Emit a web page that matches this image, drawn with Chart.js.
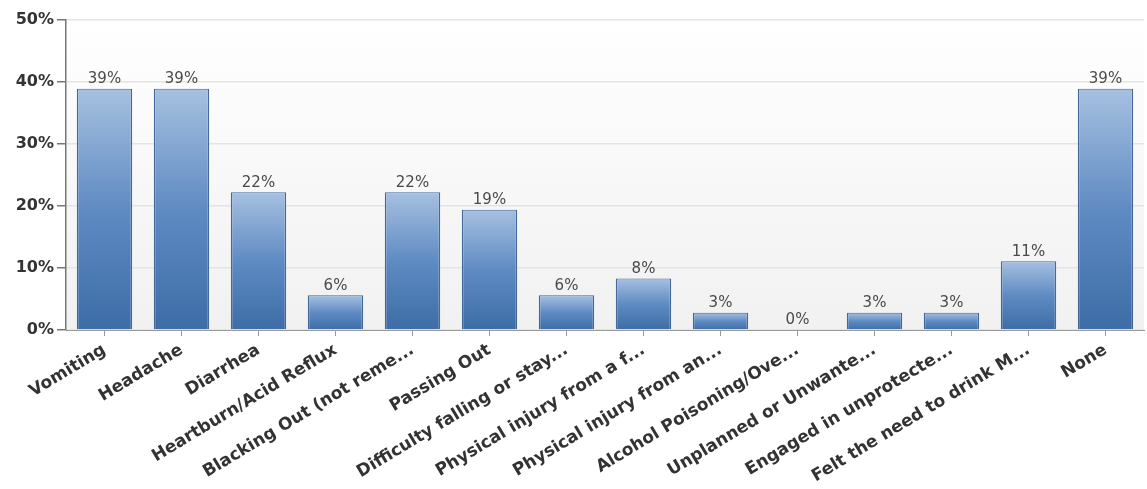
<!DOCTYPE html>
<html>
<head>
<meta charset="utf-8">
<script src="https://cdn.jsdelivr.net/npm/chart.js@4.4.0/dist/chart.umd.min.js"></script>
<style>
  html, body { margin: 0; padding: 0; background: #fff; }
  #wrap { width: 1147px; height: 489px; position: relative; }
</style>
</head>
<body>
<div id="wrap"><canvas id="barChart"></canvas></div>
<script>
const categories = [
    'Vomiting', 'Headache', 'Diarrhea', 'Heartburn/Acid Reflux',
    'Blacking Out (not reme...', 'Passing Out', 'Difficulty falling or stay...',
    'Physical injury from a f...', 'Physical injury from an...', 'Alcohol Poisoning/Ove...',
    'Unplanned or Unwante...', 'Engaged in unprotecte...', 'Felt the need to drink M...', 'None'
];
const percents = [38.9, 38.9, 22.2, 5.6, 22.2, 19.4, 5.6, 8.3, 2.8, 0, 2.8, 2.8, 11.1, 38.9];
const yTicks = [0, 10, 20, 30, 40, 50];

const textDark = '#333333';

// light panel behind the plot
const panelBg = {
    id: 'panelBg',
    beforeDraw(chart) {
        const { ctx, chartArea: a } = chart;
        if (!a) return;
        const g = ctx.createLinearGradient(0, a.top, 0, a.bottom);
        g.addColorStop(0, '#ffffff');
        g.addColorStop(1, '#f1f1f1');
        ctx.save();
        ctx.fillStyle = g;
        ctx.fillRect(a.left, a.top, a.right - a.left, a.bottom - a.top);
        ctx.restore();
    }
};

// "39%" labels over the bars
const valueLabels = {
    id: 'valueLabels',
    afterDatasetsDraw(chart) {
        const ctx = chart.ctx;
        const meta = chart.getDatasetMeta(0);
        ctx.save();
        ctx.font = '15px "DejaVu Sans"';
        ctx.fillStyle = '#4a4a4a';
        ctx.textAlign = 'center';
        ctx.textBaseline = 'bottom';
        meta.data.forEach((bar, i) => {
            ctx.fillText(Math.round(percents[i]) + '%', bar.x, bar.y - 2);
        });
        ctx.restore();
    }
};

function barFill(context) {
    const chart = context.chart;
    if (!chart.chartArea) return '#4f7fba';
    const y = chart.scales.y;
    const top = y.getPixelForValue(context.raw);
    const bottom = y.getPixelForValue(0);
    if (bottom - top < 1) return '#4f7fba';
    const g = chart.ctx.createLinearGradient(0, top, 0, bottom);
    g.addColorStop(0, '#a6c0e0');
    g.addColorStop(0.5, '#5f8bc3');
    g.addColorStop(1, '#3d6ca6');
    return g;
}

new Chart(document.getElementById('barChart'), {
    type: 'bar',
    data: {
        labels: categories,
        datasets: [{
            data: percents,
            backgroundColor: barFill,
            borderColor: '#44699a',
            borderWidth: { top: 1, left: 1.5, right: 1.5, bottom: 0 },
            barPercentage: 0.72,
            categoryPercentage: 1
        }]
    },
    options: {
        responsive: true,
        maintainAspectRatio: false,
        animation: false,
        layout: { padding: { top: 20, right: 3, left: 0, bottom: 0 } },
        plugins: {
            legend: { display: false },
            tooltip: { enabled: false }
        },
        scales: {
            x: {
                grid: {
                    offset: false,
                    drawOnChartArea: false,
                    drawTicks: true,
                    tickLength: 6,
                    tickColor: '#9a9a9a'
                },
                border: { color: '#9a9a9a', width: 1 },
                ticks: {
                    autoSkip: false,
                    minRotation: 31,
                    maxRotation: 31,
                    padding: 4,
                    color: textDark,
                    font: { family: '"DejaVu Sans"', size: 17, weight: 'bold' }
                },
                afterFit(scale) { scale.height = 159; }
            },
            y: {
                min: 0,
                max: 50,
                afterBuildTicks(scale) { scale.ticks = yTicks.map(v => ({ value: v })); },
                grid: {
                    color: '#e4e4e4',
                    lineWidth: 1.5,
                    drawTicks: true,
                    tickLength: 9,
                    tickColor: '#777777'
                },
                border: { color: '#777777', width: 1.5 },
                ticks: {
                    padding: 3,
                    color: textDark,
                    font: { family: '"DejaVu Sans"', size: 16, weight: 'bold' },
                    callback: v => v + '%'
                },
                afterFit(scale) { scale.width = 66; }
            }
        }
    },
    plugins: [panelBg, valueLabels]
});
</script>
</body>
</html>
